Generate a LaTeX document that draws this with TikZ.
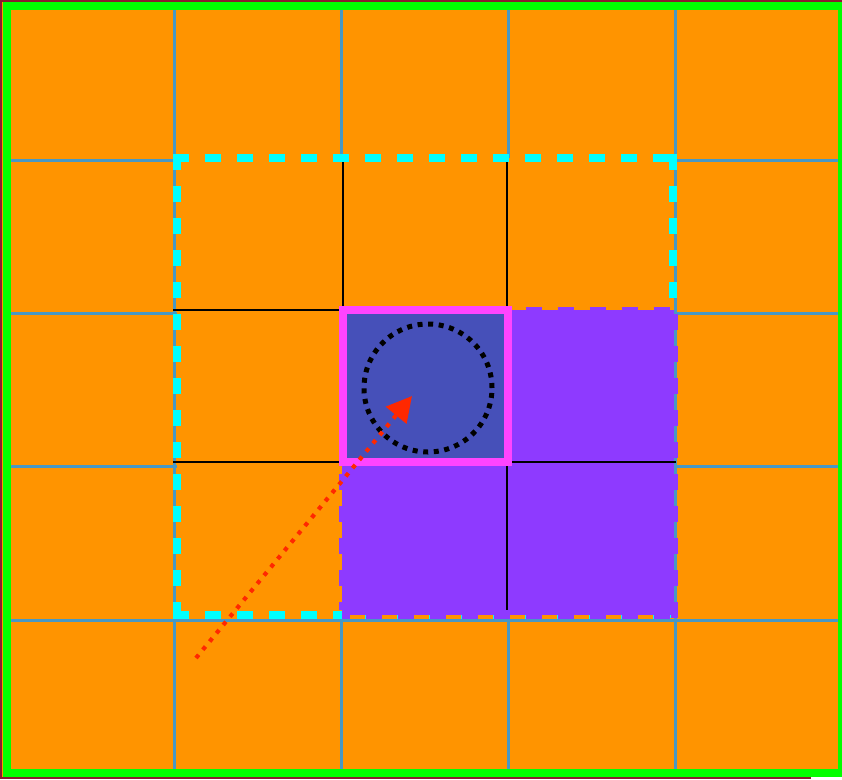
\documentclass[tikz,border=0pt]{standalone}
\usetikzlibrary{arrows.meta}
\definecolor{cellorange}{RGB}{255,148,0}
\definecolor{gridblue}{RGB}{72,152,196}
\definecolor{framegreen}{RGB}{0,255,0}
\definecolor{bgmaroon}{RGB}{136,28,48}
\definecolor{nbrcyan}{RGB}{0,255,255}
\definecolor{reachpurple}{RGB}{142,58,255}
\definecolor{agentblue}{RGB}{70,80,185}
\definecolor{agentpink}{RGB}{255,68,255}
\definecolor{pathred}{RGB}{255,40,0}
\begin{document}
\begin{tikzpicture}[x=1pt,y=-1pt,
  gridline/.style={gridblue,line width=3pt},
  nbrline/.style={black,line width=2pt},
  edgedash/.style={dash pattern=on 16pt off 16pt,line cap=butt}]
\useasboundingbox (0,0) rectangle (842,779);
\fill[bgmaroon] (0,0) rectangle (842,779);
\fill[white] (811,777) rectangle (842,779);
\fill[cellorange] (2,2) rectangle (842,777);
% 5x5 grid
\foreach \gx in {174,341,508,675} \draw[gridline] (\gx,6) -- (\gx,773);
\foreach \gy in {160,313.3,466.7,620} \draw[gridline] (7,\gy) -- (842,\gy);
\draw[framegreen,line width=8pt] (6.5,6) rectangle (842,773);
% neighbourhood of the agent
\fill[cellorange] (177,158) rectangle (674,619);
\draw[nbrline] (342.5,158) -- (342.5,310) (507,158) -- (507,310)
  (173,310) -- (343,310) (173,462) -- (343,462);
\draw[nbrcyan,line width=8pt,edgedash] (173,158) -- (677,158) (177,154) -- (177,618.5)
  (173,614.5) -- (677,614.5) (673,154) -- (673,618.5);
% reachable cells
\fill[reachpurple] (342,310) rectangle (674,615);
\draw[reachpurple,line width=7pt,edgedash] (493.5,310) -- (677,310) (674,314) -- (674,618)
  (342,474) -- (342,610);
\draw[reachpurple,line width=7pt,edgedash,dash phase=8.5pt] (342,615) -- (677,615);
\draw[nbrline] (507,462) -- (507,610) (508,462) -- (676,462);
% agent cell
\draw[agentpink,line width=8pt,fill=agentblue] (343,310) rectangle (508,462);
\coordinate (agent) at (428,388);
\draw[black,line width=5pt,dash pattern=on 5pt off 5.6pt] (agent) circle (64pt);
\coordinate (start) at (196,658);
\coordinate (goal) at (412,396);
\draw[pathred,line width=4.2pt,dash pattern=on 4.2pt off 6.5pt,
  -{Triangle[length=25pt,width=26pt]}] (start) -- (goal);
\end{tikzpicture}
\end{document}
